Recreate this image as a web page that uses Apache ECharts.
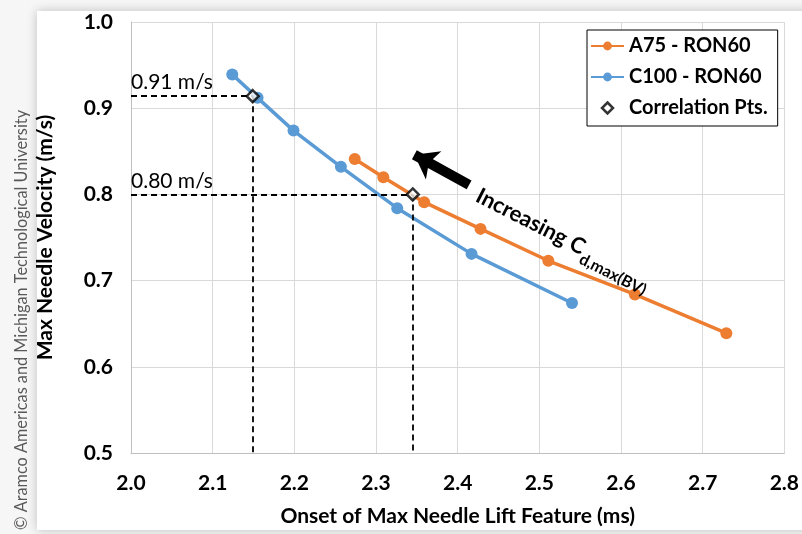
<!DOCTYPE html>
<html><head><meta charset="utf-8">
<script src="https://cdn.jsdelivr.net/npm/echarts@6/dist/echarts.min.js"></script>
<style>html,body{margin:0;padding:0;background:#f4f4f4}#c{width:802px;height:534px}</style>
</head><body><div id="c"></div>
<script>
const xTicks = [2.0, 2.1, 2.2, 2.3, 2.4, 2.5, 2.6, 2.7, 2.8];
const yTicks = [0.5, 0.6, 0.7, 0.8, 0.9, 1.0];
const a75X = [2.274, 2.309, 2.359, 2.428, 2.511, 2.617, 2.729];
const a75Y = [0.841, 0.820, 0.791, 0.760, 0.723, 0.684, 0.639];
const c100X = [2.124, 2.155, 2.199, 2.257, 2.326, 2.417, 2.540];
const c100Y = [0.939, 0.912, 0.874, 0.832, 0.784, 0.731, 0.674];
const corrX = [2.149, 2.345];
const corrY = [0.914, 0.800];
const corrLabels = ['0.91 m/s', '0.80 m/s'];
const arrowFrom = [2.414, 0.811];
const arrowTo = [2.347, 0.846];
const notePos = [2.426, 0.803];

const FONT = 'Lato';
const chart = echarts.init(document.getElementById('c'));
const zip = (xs, ys) => xs.map((x, i) => [x, ys[i]]);

const guideLines = [];
corrX.forEach((x, i) => {
  guideLines.push([{coord: [xTicks[0], corrY[i]], label: {show: true, formatter: corrLabels[i]}}, {coord: [x, corrY[i]]}]);
  guideLines.push([{coord: [x, corrY[i]], label: {show: false}}, {coord: [x, yTicks[0]]}]);
});

const option = {
  backgroundColor: '#f6f6f6',
  animation: false,
  textStyle: {fontFamily: FONT},
  grid: {left: 131, right: 12, top: 22, bottom: 81, containLabel: false},
  xAxis: {
    type: 'value', min: 2.0, max: 2.8, interval: 0.1,
    axisLine: {show: true, lineStyle: {color: '#bfbfbf', width: 1}},
    axisTick: {show: false},
    splitLine: {show: true, lineStyle: {color: '#d9d9d9', width: 1}},
    axisLabel: {color: '#000', fontSize: 21, fontWeight: 'bold', fontFamily: FONT, margin: 20, formatter: v => v.toFixed(1)},
    name: 'Onset of Max Needle Lift Feature (ms)', nameLocation: 'middle', nameGap: 53,
    nameTextStyle: {color: '#000', fontSize: 21, fontWeight: 'bold', fontFamily: FONT}
  },
  yAxis: {
    type: 'value', min: 0.5, max: 1.0, interval: 0.1,
    axisLine: {show: true, lineStyle: {color: '#bfbfbf', width: 1}},
    axisTick: {show: false},
    splitLine: {show: true, lineStyle: {color: '#d9d9d9', width: 1}},
    axisLabel: {color: '#000', fontSize: 21, fontWeight: 'bold', fontFamily: FONT, margin: 18, formatter: v => v.toFixed(1)},
    name: 'Max Needle Velocity (m/s)', nameLocation: 'middle', nameGap: 75,
    nameTextStyle: {color: '#000', fontSize: 21, fontWeight: 'bold', fontFamily: FONT}
  },
  legend: {
    orient: 'vertical', left: 587, top: 30, width: 195,
    padding: [6, 10, 8, 3], itemGap: 11, itemWidth: 33, itemHeight: 11,
    symbolKeepAspect: true,
    backgroundColor: '#fff', borderColor: '#000', borderWidth: 1,
    textStyle: {color: '#000', fontSize: 20, fontWeight: 'bold', fontFamily: FONT, width: 150},
    data: [{name: 'A75 - RON60'}, {name: 'C100 - RON60'},
           {name: 'Correlation Pts.', icon: 'path://M0,-1L1,0L0,1L-1,0Z', itemStyle: {color: '#fff', borderColor: '#000', borderWidth: 2.5}}]
  },
  series: [
    {
      name: 'A75 - RON60', type: 'line', data: zip(a75X, a75Y), z: 3,
      symbol: 'circle', symbolSize: 12, color: '#ED7D31',
      lineStyle: {width: 3.5, color: '#ED7D31'}, itemStyle: {color: '#ED7D31'}
    },
    {
      name: 'C100 - RON60', type: 'line', data: zip(c100X, c100Y), z: 3,
      symbol: 'circle', symbolSize: 12, color: '#5B9BD5',
      lineStyle: {width: 3.5, color: '#5B9BD5'}, itemStyle: {color: '#5B9BD5'}
    },
    {
      name: 'Correlation Pts.', type: 'scatter', data: zip(corrX, corrY), z: 5,
      symbol: 'diamond', symbolSize: 12, symbolKeepAspect: true,
      itemStyle: {color: '#fff', borderColor: '#000', borderWidth: 2.5},
      markLine: {
        silent: true, symbol: ['none', 'none'], z: 4,
        lineStyle: {color: '#000', type: [6, 4], width: 1.8},
        label: {position: 'insideStartTop', distance: [0, 3], color: '#000', fontSize: 21, fontFamily: FONT, fontWeight: 'normal'},
        data: guideLines
      }
    },
    {
      name: 'arrow', type: 'line', data: [], z: 6,
      markLine: {
        silent: true, symbol: ['none', 'arrow'], symbolSize: [24, 22],
        lineStyle: {color: '#000', type: 'solid', width: 10},
        label: {show: false},
        data: [[{coord: arrowFrom}, {coord: arrowTo}]]
      }
    }
  ]
};
chart.setOption(option);

const p = chart.convertToPixel({gridIndex: 0}, notePos);
chart.setOption({
  graphic: [
    {type: 'rect', z: -10, shape: {x: 37, y: 11, width: 800, height: 519},
     style: {fill: '#fff', shadowBlur: 10, shadowColor: 'rgba(0,0,0,0.22)'}},
    {type: 'text', x: 22, y: 320, rotation: Math.PI / 2,
     style: {text: '\u00a9 Aramco Americas and Michigan Technological University', fill: '#595959',
       font: '16.3px ' + FONT, textAlign: 'center', textVerticalAlign: 'middle'}},
    {type: 'text', x: p[0], y: p[1], rotation: -27 * Math.PI / 180, z: 10,
     style: {text: '{a|Increasing C}{b|d,max(BV)}', textAlign: 'left', textVerticalAlign: 'middle',
       rich: {a: {fontSize: 22, fontWeight: 'bold', fontFamily: FONT, fill: '#000', lineHeight: 28, verticalAlign: 'bottom'},
              b: {fontSize: 16, fontWeight: 'bold', fontFamily: FONT, fill: '#000', lineHeight: 28, verticalAlign: 'bottom', padding: [0,0,-7,1]}}}}
  ]
});
</script></body></html>
